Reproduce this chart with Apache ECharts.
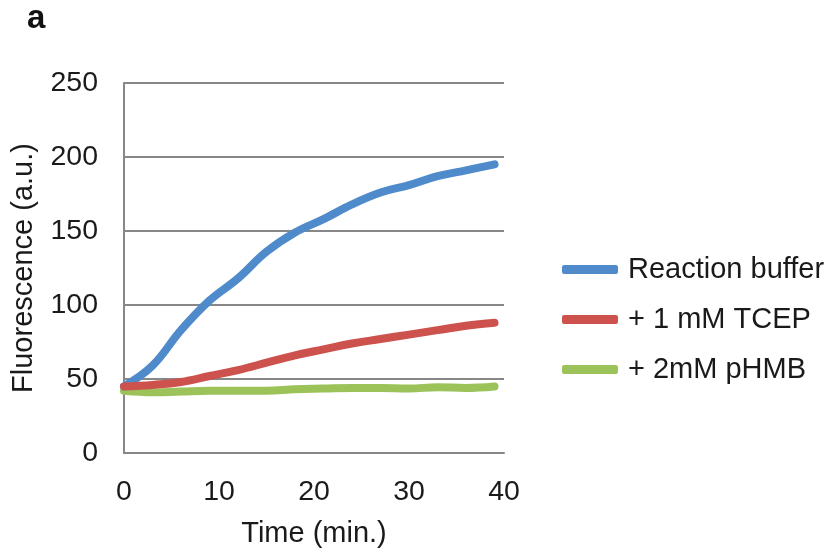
<!DOCTYPE html>
<html><head><meta charset="utf-8">
<script src="https://cdn.jsdelivr.net/npm/echarts@6/dist/echarts.min.js"></script>
<style>html,body{margin:0;padding:0;background:#fff}#c{width:830px;height:558px}</style>
</head><body><div id="c"></div>
<script>
const times = [0,3,6,9,12,15,18,21,24,27,30,33,36,39];
const reactionBuffer = [45,59,83,103,118,136,149,158,168,176,181,187,191,195];
const tcep = [45,46,48,52,56,61,66,70,74,77,80,83,86,88];
const phmb = [42,41,41.5,42,42,42,43,43.5,44,44,43.5,44.5,44,45];
const seriesNames = ['Reaction buffer','+ 1 mM TCEP','+ 2mM pHMB'];
const colors = ['#4F8BCB','#CD524D','#9BC35A'];
const yTicks = {min:0,max:250,interval:50};
const xTicks = {min:0,max:40,interval:10};

const pair = (xs, ys) => xs.map((x,i)=>[x, ys[i]]);
const font = 'Liberation Sans, Arial, sans-serif';
const chart = echarts.init(document.getElementById('c'));
chart.setOption({
  animation:false,
  color: colors,
  graphic:[{type:'text', left:27, top:2, style:{text:'a', fontFamily:font, fontSize:33, fontWeight:'bold', fill:'#111'}}],
  grid:{left:124, right:326, top:83, bottom:105},
  legend:{
    orient:'vertical', left:557, top:250, itemGap:21,
    itemWidth:56, itemHeight:9, icon:'roundRect',
    textStyle:{fontFamily:font,fontSize:29,color:'#1a1a1a',padding:[0,0,0,5]},
    data: seriesNames
  },
  xAxis:{
    type:'value', min:xTicks.min, max:xTicks.max, interval:xTicks.interval,
    name:'Time (min.)', nameLocation:'middle', nameGap:66,
    nameTextStyle:{fontFamily:font,fontSize:29,color:'#1a1a1a'},
    axisLine:{lineStyle:{color:'#878787',width:2}},
    axisTick:{show:false},
    axisLabel:{margin:25,fontFamily:font,fontSize:28.5,color:'#1a1a1a'},
    splitLine:{show:false}
  },
  yAxis:{
    type:'value', min:yTicks.min, max:yTicks.max, interval:yTicks.interval,
    name:'Fluorescence (a.u.)', nameLocation:'middle', nameGap:86,
    nameTextStyle:{fontFamily:font,fontSize:29,color:'#1a1a1a'},
    axisLine:{show:true,lineStyle:{color:'#878787',width:2}},
    axisTick:{show:false},
    axisLabel:{margin:26,fontFamily:font,fontSize:28.5,color:'#1a1a1a'},
    splitLine:{lineStyle:{color:'#878787',width:2}}
  },
  series:[
    {name:seriesNames[0],type:'line',data:pair(times,reactionBuffer),smooth:0.4,showSymbol:false,lineStyle:{width:8,cap:'round',join:'round'}},
    {name:seriesNames[1],type:'line',data:pair(times,tcep),smooth:0.4,showSymbol:false,lineStyle:{width:8,cap:'round',join:'round'}},
    {name:seriesNames[2],type:'line',data:pair(times,phmb),smooth:0.4,showSymbol:false,lineStyle:{width:8,cap:'round',join:'round'},z:1}
  ]
});
</script></body></html>
